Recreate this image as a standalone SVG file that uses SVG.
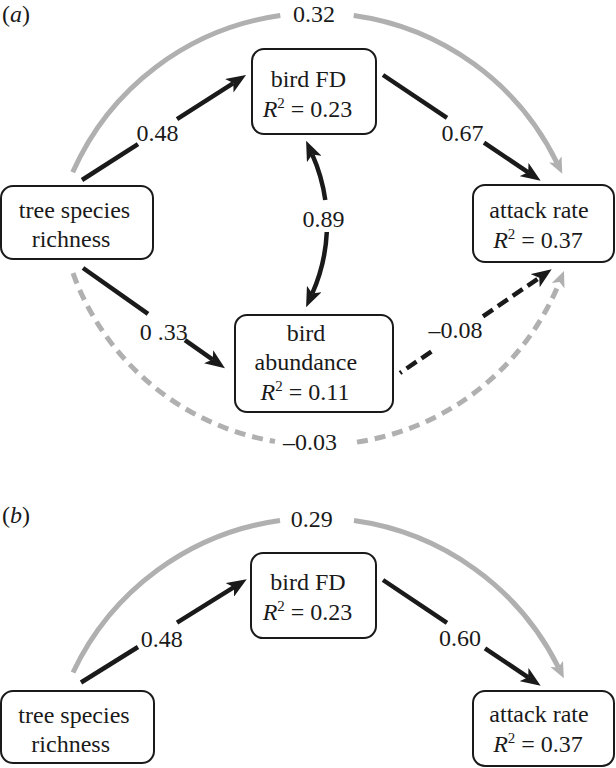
<svg xmlns="http://www.w3.org/2000/svg" width="616" height="768" viewBox="0 0 616 768">
<style>
.box{fill:#fff;stroke:#1a1a1a;stroke-width:2}
.t{font-family:"Liberation Serif","Times New Roman",serif;font-size:24px;fill:#1a1a1a;text-anchor:middle}
.lbl{font-family:"Liberation Serif","Times New Roman",serif;font-size:24px;fill:#1a1a1a;text-anchor:middle}
.blk{fill:none;stroke:#1a1a1a;stroke-width:4.5}
.gry{fill:none;stroke:#b0b0b0;stroke-width:5}
.dash{stroke-dasharray:12 6}
.gdash{stroke-dasharray:11 7}
.sup{font-size:15px}
</style>
<defs>
<marker id="ah" markerUnits="userSpaceOnUse" viewBox="0 -8 20 16" markerWidth="20" markerHeight="16" refX="5" refY="0" orient="auto"><path d="M0,-8 L20,0 L0,8 L5,0 z" fill="#1a1a1a"/></marker>
<marker id="ahg" markerUnits="userSpaceOnUse" viewBox="0 -7 16 14" markerWidth="16" markerHeight="14" refX="4" refY="0" orient="auto"><path d="M0,-7 L16,0 L0,7 L4,0 z" fill="#b0b0b0"/></marker>
</defs>
<rect width="616" height="768" fill="#fff"/>

<text class="t" x="2" y="22" style="text-anchor:start">(<tspan font-style="italic">a</tspan>)</text>
<text class="t" x="2" y="523" style="text-anchor:start">(<tspan font-style="italic">b</tspan>)</text>

<g id="connectors">
<!-- panel a -->
<path class="gry" d="M72.7,172.3 A267,267 0 0 1 280.3,15.5"/>
<path class="gry" d="M353.7,15.5 A267,267 0 0 1 557,162.9" marker-end="url(#ahg)"/>
<path class="blk" d="M82,180 L138,144.1"/>
<path class="blk" d="M177,119.2 L233.4,83.1" marker-end="url(#ah)"/>
<path class="blk" d="M383,75 L447,117.9"/>
<path class="blk" d="M484,142.7 L528.2,172.3" marker-end="url(#ah)"/>
<path class="blk" d="M325.3,200 A171,171 0 0 0 312.2,154.4" marker-end="url(#ah)"/>
<path class="blk" d="M326.8,232 A171,171 0 0 1 312.2,293.6" marker-end="url(#ah)"/>
<path class="blk" d="M83,268 L148,313.9"/>
<path class="blk" d="M185,340.1 L212.7,359.6" marker-end="url(#ah)"/>
<path class="blk" d="M400,373 L437,347.7" style="stroke-dasharray:2 6 12 6 12 20"/>
<path class="blk dash" d="M483,316.3 L539.3,277.8" marker-end="url(#ah)"/>
<path class="gry gdash" d="M73,273.2 A260.5,260.5 0 0 0 275,441.4"/>
<path class="gry gdash" d="M357,442.1 A260.5,260.5 0 0 0 559.5,282.1" marker-end="url(#ahg)"/>
<!-- panel b -->
<path class="gry" d="M73,672.5 A269.9,269.9 0 0 1 280,520.5"/>
<path class="gry" d="M354,520.5 A269.9,269.9 0 0 1 558.5,667.5" marker-end="url(#ahg)"/>
<path class="blk" d="M81,682.5 L138,647"/>
<path class="blk" d="M177,622.7 L234,587.2" marker-end="url(#ah)"/>
<path class="blk" d="M383,580 L447,622.9"/>
<path class="blk" d="M485,648.4 L528.2,677.3" marker-end="url(#ah)"/>
<!-- labels -->
<text class="lbl" x="314" y="22">0.32</text>
<text class="lbl" x="157.5" y="141">0.48</text>
<text class="lbl" x="462.5" y="141">0.67</text>
<text class="lbl" x="323.5" y="226.5">0.89</text>
<text class="lbl" x="163.7" y="340">0 .33</text>
<text class="lbl" x="455.5" y="338.3">–0.08</text>
<text class="lbl" x="310" y="450">–0.03</text>
<text class="lbl" x="311.7" y="527">0.29</text>
<text class="lbl" x="161.7" y="646.7">0.48</text>
<text class="lbl" x="460" y="645.5">0.60</text>
</g>

<g id="a-tree">
<rect class="box" x="1" y="186" width="152" height="73" rx="12"/>
<text class="t" x="74.5" y="218">tree species</text>
<text class="t" x="71" y="247">richness</text>
</g>
<g id="a-fd">
<rect class="box" x="252" y="49" width="124" height="85" rx="12"/>
<text class="t" x="308.3" y="87">bird FD</text>
<text class="t" x="307.5" y="117"><tspan font-style="italic">R</tspan><tspan class="sup" dy="-9">2</tspan><tspan dy="9"> = 0.23</tspan></text>
</g>
<g id="a-attack">
<rect class="box" x="473" y="185" width="141" height="77" rx="12"/>
<text class="t" x="539" y="218">attack rate</text>
<text class="t" x="538" y="248"><tspan font-style="italic">R</tspan><tspan class="sup" dy="-9">2</tspan><tspan dy="9"> = 0.37</tspan></text>
</g>
<g id="a-abund">
<rect class="box" x="235" y="315" width="158" height="97" rx="12"/>
<text class="t" x="306" y="341">bird</text>
<text class="t" x="305.8" y="370">abundance</text>
<text class="t" x="305" y="400"><tspan font-style="italic">R</tspan><tspan class="sup" dy="-9">2</tspan><tspan dy="9"> = 0.11</tspan></text>
</g>

<g id="b-tree">
<rect class="box" x="1" y="691" width="153" height="72" rx="12"/>
<text class="t" x="74" y="723">tree species</text>
<text class="t" x="70.7" y="752">richness</text>
</g>
<g id="b-fd">
<rect class="box" x="251" y="553" width="125" height="85" rx="12"/>
<text class="t" x="308" y="590">bird FD</text>
<text class="t" x="307.5" y="620"><tspan font-style="italic">R</tspan><tspan class="sup" dy="-9">2</tspan><tspan dy="9"> = 0.23</tspan></text>
</g>
<g id="b-attack">
<rect class="box" x="473" y="691" width="141" height="75" rx="12"/>
<text class="t" x="539" y="722">attack rate</text>
<text class="t" x="538" y="752"><tspan font-style="italic">R</tspan><tspan class="sup" dy="-9">2</tspan><tspan dy="9"> = 0.37</tspan></text>
</g>
</svg>
